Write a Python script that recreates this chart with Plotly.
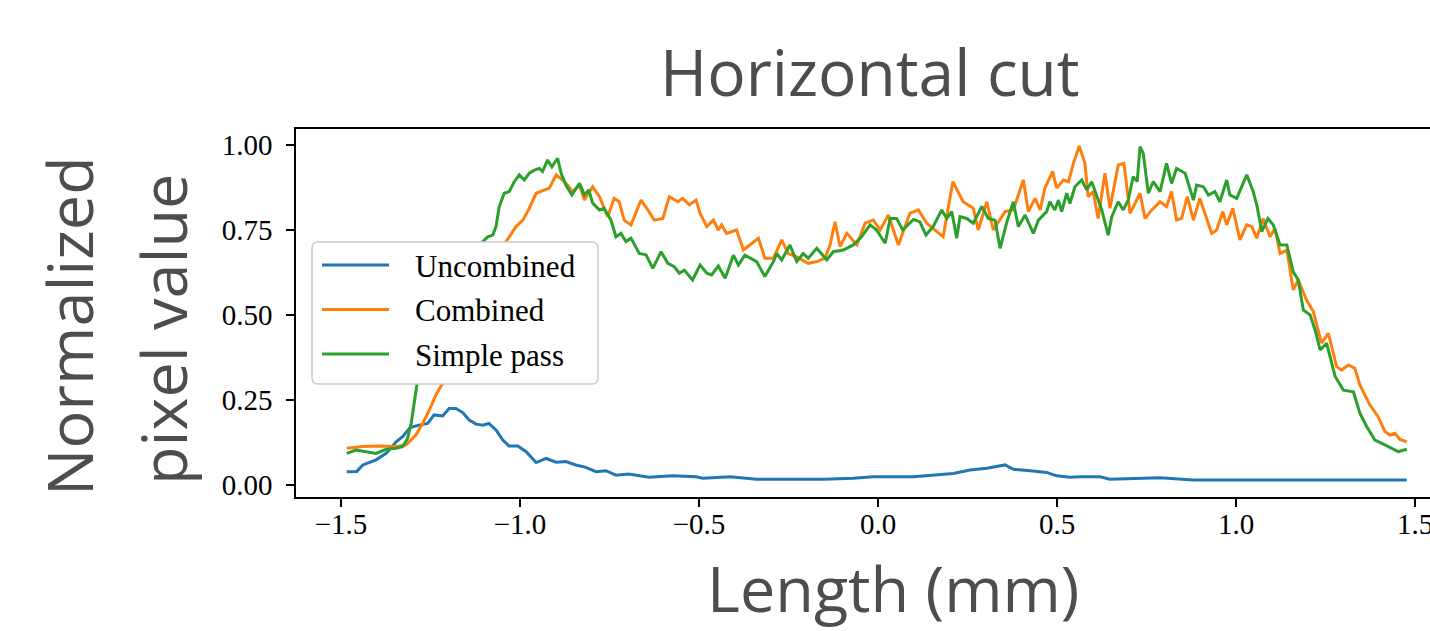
import plotly.graph_objects as go

# Horizontal cut profiles (length in mm, normalized pixel value)
uncombined_x = [-1.484, -1.456, -1.439, -1.402, -1.374, -1.346, -1.328, -1.307, -1.282, -1.258,
                -1.240, -1.216, -1.198, -1.179, -1.160, -1.142, -1.123, -1.104, -1.087, -1.067,
                -1.048, -1.031, -1.006, -0.983, -0.955, -0.927, -0.899, -0.872, -0.844, -0.816,
                -0.788, -0.760, -0.732, -0.696, -0.640, -0.573, -0.508, -0.489, -0.413, -0.339,
                -0.255, -0.153, -0.069, -0.013, 0.099, 0.154, 0.210, 0.257, 0.304, 0.355,
                0.378, 0.425, 0.471, 0.499, 0.536, 0.564, 0.620, 0.648, 0.788, 0.881,
                1.067, 1.253, 1.477]
uncombined_y = [0.039, 0.040, 0.059, 0.074, 0.093, 0.127, 0.142, 0.169, 0.176, 0.181,
                0.206, 0.203, 0.225, 0.225, 0.213, 0.191, 0.179, 0.176, 0.181, 0.162,
                0.132, 0.115, 0.115, 0.098, 0.066, 0.078, 0.067, 0.069, 0.059, 0.052,
                0.039, 0.042, 0.029, 0.032, 0.023, 0.027, 0.024, 0.020, 0.024, 0.017,
                0.017, 0.017, 0.020, 0.024, 0.024, 0.029, 0.034, 0.044, 0.049, 0.059,
                0.046, 0.042, 0.037, 0.027, 0.023, 0.024, 0.024, 0.017, 0.021, 0.015,
                0.015, 0.017, 0.015]

combined_x = [-1.484, -1.439, -1.394, -1.346, -1.318, -1.291, -1.272, -1.253, -1.235, -1.216,
              -1.190, -1.160, -1.130, -1.100, -1.070, -1.050,
              -1.030, -1.011, -0.992, -0.974, -0.955, -0.932, -0.918, -0.899, -0.881, -0.867,
              -0.853, -0.834, -0.820, -0.797, -0.778, -0.755, -0.737, -0.723, -0.709, -0.690,
              -0.676, -0.662, -0.643, -0.625, -0.601, -0.583, -0.559, -0.546, -0.527, -0.508,
              -0.497, -0.478, -0.460, -0.446, -0.437, -0.423, -0.395, -0.376, -0.358, -0.334,
              -0.316, -0.292, -0.269, -0.251, -0.227, -0.195, -0.171, -0.148, -0.134, -0.120,
              -0.106, -0.087, -0.059, -0.036, -0.013, 0.006, 0.029, 0.057, 0.089, 0.113,
              0.136, 0.182, 0.209, 0.238, 0.266, 0.280, 0.304, 0.322, 0.355, 0.378,
              0.406, 0.420, 0.439, 0.453, 0.466, 0.488, 0.499, 0.518, 0.532, 0.546,
              0.562, 0.578, 0.587, 0.601, 0.615, 0.634, 0.648, 0.671, 0.687, 0.704,
              0.718, 0.732, 0.746, 0.765, 0.788, 0.806, 0.820, 0.834, 0.848, 0.864,
              0.881, 0.899, 0.918, 0.932, 0.946, 0.963, 0.974, 0.991, 1.011, 1.030,
              1.044, 1.058, 1.076, 1.095, 1.109, 1.123, 1.142, 1.160, 1.174, 1.197,
              1.216, 1.239, 1.258, 1.281, 1.295, 1.314, 1.332, 1.346, 1.374, 1.397,
              1.416, 1.430, 1.444, 1.458, 1.477]
combined_y = [0.108, 0.113, 0.115, 0.113, 0.118, 0.147, 0.181, 0.221, 0.265, 0.299,
              0.370, 0.450, 0.530, 0.600, 0.660, 0.700,
              0.730, 0.760, 0.779, 0.814, 0.858, 0.868, 0.873, 0.912, 0.897, 0.882,
              0.863, 0.882, 0.838, 0.877, 0.848, 0.789, 0.843, 0.833, 0.779, 0.765,
              0.799, 0.838, 0.809, 0.779, 0.784, 0.848, 0.833, 0.843, 0.824, 0.838,
              0.799, 0.760, 0.779, 0.750, 0.765, 0.740, 0.750, 0.691, 0.706, 0.726,
              0.667, 0.667, 0.721, 0.681, 0.671, 0.652, 0.657, 0.667, 0.706, 0.774,
              0.701, 0.740, 0.706, 0.770, 0.779, 0.750, 0.794, 0.706, 0.799, 0.809,
              0.770, 0.730, 0.892, 0.833, 0.814, 0.750, 0.833, 0.750, 0.804, 0.809,
              0.897, 0.804, 0.843, 0.809, 0.873, 0.922, 0.873, 0.897, 0.892, 0.946,
              0.997, 0.946, 0.848, 0.863, 0.784, 0.917, 0.814, 0.941, 0.946, 0.799,
              0.828, 0.858, 0.784, 0.809, 0.833, 0.819, 0.863, 0.779, 0.784, 0.848,
              0.779, 0.843, 0.784, 0.740, 0.750, 0.804, 0.765, 0.814, 0.721, 0.765,
              0.760, 0.726, 0.784, 0.730, 0.755, 0.681, 0.691, 0.574, 0.603, 0.544,
              0.510, 0.417, 0.446, 0.348, 0.338, 0.353, 0.343, 0.294, 0.235, 0.201,
              0.157, 0.147, 0.152, 0.134, 0.127]

simple_x = [-1.484, -1.458, -1.430, -1.402, -1.374, -1.346, -1.328, -1.314, -1.304, -1.295,
            -1.286, -1.270, -1.250, -1.230, -1.200, -1.170, -1.140, -1.110,
            -1.090, -1.076, -1.067, -1.058, -1.044, -1.030, -1.016, -1.002, -0.988, -0.974,
            -0.960, -0.946, -0.937, -0.923, -0.911, -0.895, -0.885, -0.872, -0.855, -0.834,
            -0.820, -0.808, -0.797, -0.778, -0.765, -0.746, -0.732, -0.718, -0.704, -0.690,
            -0.667, -0.648, -0.629, -0.606, -0.587, -0.569, -0.555, -0.541, -0.518, -0.497,
            -0.478, -0.465, -0.446, -0.427, -0.404, -0.390, -0.372, -0.339, -0.316, -0.292,
            -0.283, -0.269, -0.246, -0.227, -0.209, -0.195, -0.171, -0.143, -0.125, -0.097,
            -0.069, -0.046, -0.022, -0.004, 0.020, 0.034, 0.052, 0.069, 0.099, 0.117,
            0.134, 0.154, 0.178, 0.192, 0.206, 0.220, 0.229, 0.248, 0.266, 0.290,
            0.308, 0.327, 0.341, 0.359, 0.378, 0.392, 0.411, 0.434, 0.448, 0.471,
            0.480, 0.494, 0.504, 0.513, 0.527, 0.536, 0.550, 0.569, 0.583, 0.597,
            0.611, 0.625, 0.643, 0.653, 0.671, 0.685, 0.699, 0.713, 0.724, 0.732,
            0.741, 0.755, 0.769, 0.788, 0.806, 0.820, 0.834, 0.858, 0.881, 0.890,
            0.909, 0.923, 0.941, 0.955, 0.974, 0.983, 1.002, 1.030, 1.048, 1.058,
            1.072, 1.089, 1.104, 1.123, 1.142, 1.160, 1.174, 1.188, 1.207, 1.221,
            1.235, 1.253, 1.277, 1.300, 1.328, 1.346, 1.365, 1.388, 1.416, 1.435,
            1.453, 1.477]
simple_y = [0.093, 0.103, 0.098, 0.093, 0.105, 0.108, 0.113, 0.137, 0.181, 0.250,
            0.309, 0.420, 0.520, 0.580, 0.630, 0.660, 0.690, 0.710,
            0.730, 0.735, 0.760, 0.819, 0.858, 0.863, 0.892, 0.912, 0.897, 0.917,
            0.926, 0.931, 0.922, 0.956, 0.936, 0.961, 0.917, 0.882, 0.853, 0.887,
            0.853, 0.868, 0.829, 0.809, 0.814, 0.779, 0.730, 0.740, 0.716, 0.726,
            0.681, 0.677, 0.637, 0.686, 0.652, 0.642, 0.623, 0.632, 0.603, 0.647,
            0.623, 0.618, 0.644, 0.608, 0.676, 0.647, 0.676, 0.657, 0.613, 0.657,
            0.681, 0.662, 0.706, 0.657, 0.681, 0.667, 0.696, 0.662, 0.686, 0.691,
            0.706, 0.730, 0.765, 0.750, 0.711, 0.784, 0.784, 0.750, 0.781, 0.774,
            0.735, 0.760, 0.809, 0.784, 0.804, 0.726, 0.789, 0.784, 0.770, 0.819,
            0.784, 0.779, 0.696, 0.770, 0.833, 0.760, 0.794, 0.740, 0.779, 0.804,
            0.833, 0.809, 0.838, 0.804, 0.858, 0.828, 0.877, 0.897, 0.868, 0.892,
            0.853, 0.809, 0.735, 0.789, 0.833, 0.809, 0.838, 0.907, 0.892, 0.995,
            0.975, 0.858, 0.892, 0.863, 0.946, 0.887, 0.931, 0.917, 0.838, 0.882,
            0.877, 0.853, 0.863, 0.833, 0.897, 0.853, 0.843, 0.912, 0.863, 0.824,
            0.745, 0.784, 0.765, 0.706, 0.706, 0.627, 0.603, 0.515, 0.500, 0.456,
            0.397, 0.417, 0.319, 0.279, 0.274, 0.211, 0.172, 0.132, 0.118, 0.108,
            0.098, 0.105]

series = [
    ("Uncombined", uncombined_x, uncombined_y, "#1f77b4"),
    ("Combined", combined_x, combined_y, "#ff7f0e"),
    ("Simple pass", simple_x, simple_y, "#2ca02c"),
]

x_ticks = [-1.5, -1.0, -0.5, 0.0, 0.5, 1.0, 1.5]
y_ticks = [0.0, 0.25, 0.5, 0.75, 1.0]

W, H = 1430, 631
L, R, T, B = 296, 1430, 129, 497
GRAY = "#4d4d4d"
SERIF = "Liberation Serif"
SANS = "Open Sans"
LINE_W = 3


def px(x):
    return (x - L) / (R - L)


def py(y):
    return (B - y) / (B - T)


fig = go.Figure()
for name, xs, ys, color in series:
    fig.add_trace(go.Scatter(x=xs, y=ys, mode="lines", name=name,
                             line=dict(color=color, width=LINE_W), showlegend=False))

fig.update_layout(
    width=W, height=H,
    margin=dict(l=L, r=W - R, t=T, b=H - B, pad=0, autoexpand=False),
    paper_bgcolor="white", plot_bgcolor="white",
    showlegend=False,
)
axis_common = dict(showgrid=False, zeroline=False, showline=True, linecolor="black",
                   linewidth=1.5, ticks="outside", ticklen=8, tickwidth=1.5,
                   tickcolor="black", ticklabeloverflow="allow", automargin=False,
                   tickfont=dict(family=SERIF, size=29, color="black"))
fig.update_xaxes(range=[-1.6257, 1.5419], tickvals=x_ticks,
                 ticktext=[f"{v:.1f}".replace("-", "\u2212") for v in x_ticks],
                 mirror=True, ticklabelstandoff=-8, **axis_common)
fig.update_yaxes(range=[-0.0353, 1.047], tickvals=y_ticks,
                 ticktext=[f"{v:.2f}" for v in y_ticks],
                 mirror=False, ticklabelstandoff=8, **axis_common)

# Title and axis labels
fig.add_annotation(text="Horizontal cut", x=px(870), y=py(71), xref="paper", yref="paper",
                   showarrow=False, xanchor="center", yanchor="middle",
                   font=dict(family=SANS, size=64, color=GRAY))
fig.add_annotation(text="Length (mm)", x=px(893), y=py(587), xref="paper", yref="paper",
                   showarrow=False, xanchor="center", yanchor="middle",
                   font=dict(family=SANS, size=63, color=GRAY))
fig.add_annotation(text="Normalized", x=px(68), y=py(326), xref="paper", yref="paper",
                   showarrow=False, xanchor="center", yanchor="middle", textangle=-90,
                   font=dict(family=SANS, size=63, color=GRAY))
fig.add_annotation(text="pixel value", x=px(162), y=py(330), xref="paper", yref="paper",
                   showarrow=False, xanchor="center", yanchor="middle", textangle=-90,
                   font=dict(family=SANS, size=63, color=GRAY))

# Legend box with rounded corners
bx0, bx1, by0, by1, r = 312, 598, 242, 384, 6
rx, ry = r / (R - L), r / (B - T)
X0, X1, Y0, Y1 = px(bx0), px(bx1), py(by1), py(by0)
path = (f"M{X0 + rx},{Y0} L{X1 - rx},{Y0} Q{X1},{Y0} {X1},{Y0 + ry} "
        f"L{X1},{Y1 - ry} Q{X1},{Y1} {X1 - rx},{Y1} L{X0 + rx},{Y1} "
        f"Q{X0},{Y1} {X0},{Y1 - ry} L{X0},{Y0 + ry} Q{X0},{Y0} {X0 + rx},{Y0} Z")
fig.add_shape(type="path", path=path, xref="paper", yref="paper", layer="above",
              fillcolor="white", line=dict(color="#cccccc", width=1.5))
for i, (name, _, _, color) in enumerate(series):
    row_y = 265 + i * 44.5
    fig.add_shape(type="line", xref="paper", yref="paper", layer="above",
                  x0=px(322), x1=px(389), y0=py(row_y), y1=py(row_y),
                  line=dict(color=color, width=LINE_W))
    fig.add_annotation(text=name, x=px(413), y=py(row_y + 1), xref="paper", yref="paper",
                       showarrow=False, xanchor="left", yanchor="middle",
                       font=dict(family=SERIF, size=31, color="black"))

fig.write_html("out.html")
